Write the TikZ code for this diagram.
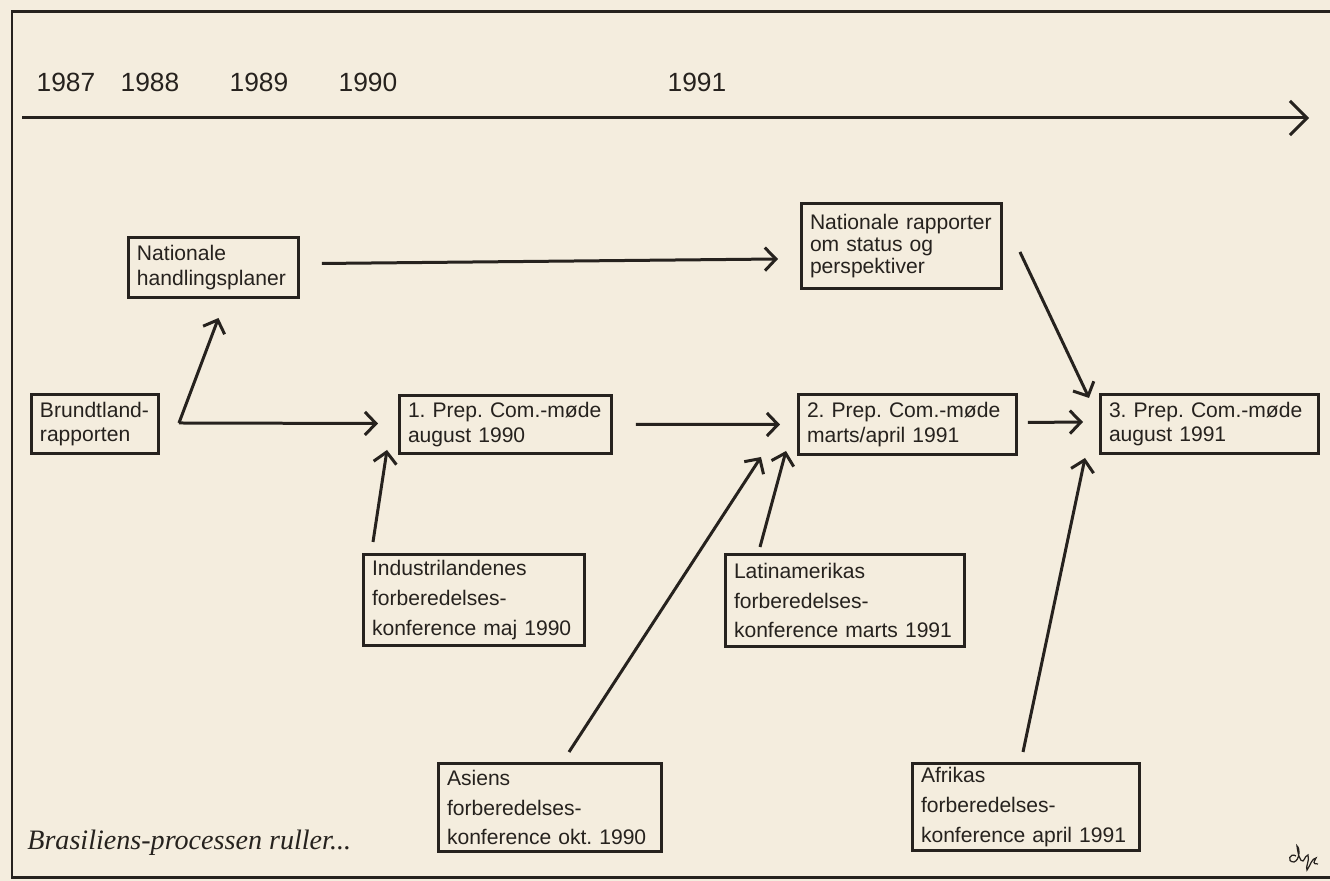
\documentclass[tikz,border=0pt]{standalone}
\usepackage{fontspec}
\setmainfont{Liberation Sans}
\newfontfamily\serifit{Liberation Serif}
\usetikzlibrary{arrows.meta,calc}

\definecolor{papir}{RGB}{244,237,222}
\definecolor{blaek}{RGB}{38,34,30}

\tikzset{
  boks/.style={draw=blaek, line width=0.06cm, anchor=north west, align=left,
    inner xsep=0.17cm, inner ysep=0.08cm, text=blaek,
    font={\fontsize{12}{14}\selectfont\frenchspacing\hyphenpenalty=10000}},
  konf/.style={boks, font={\fontsize{12}{17}\selectfont\frenchspacing\hyphenpenalty=10000}},
  pil/.style={draw=blaek, line width=0.06cm, -{Straight Barb[length=0.22cm,width=0.46cm]}},
  aar/.style={anchor=base, text=blaek, font={\fontsize{15}{18}\selectfont}},
}

\begin{document}
\frenchspacing
\begin{tikzpicture}[x=0.02cm, y=-0.02cm]
                        % Paper and frame
                        \useasboundingbox (0,0) rectangle (1330,881);%
                        \fill [papir] (0,0) rectangle (1330,881);%
                        \draw [blaek, line width=0.06cm] (1330,12) -- (12,12) -- (12,878) -- (1330,878);%

                        % Years over the time line
                        \node [aar] (y1987) at (66,92) {1987};%
                        \node [aar] (y1988) at (150,92) {1988};%
                        \node [aar] (y1989) at (259,92) {1989};%
                        \node [aar] (y1990) at (368,92) {1990};%
                        \node [aar] (y1991) at (697,92) {1991};%

                        % Drawing time line
                        \coordinate (tlstart) at (22,118);%
                        \coordinate (tlend) at (1309,118);%
                        \draw [draw=blaek, line width=0.06cm, -{Straight Barb[length=0.34cm,width=0.68cm]}] (tlstart) -- (tlend);%

                        % Boxes
                        \node [boks, text width=3.06cm, minimum height=1.20cm] (hand) at (127,236) {Nationale\\handlingsplaner};%
                        \node [boks, text width=3.66cm, minimum height=1.70cm, font={\fontsize{12}{12.5}\selectfont\frenchspacing}] (rap) at (800,202) {Nationale rapporter\\om status og\\perspektiver};%
                        \node [boks, text width=2.20cm, minimum height=1.18cm] (brundt) at (30,393) {Brundtland-\\rapporten};%
                        \node [boks, text width=3.90cm, minimum height=1.16cm] (prepA) at (398,394) {1. Prep. Com.-møde\\august 1990};%
                        \node [boks, text width=4.02cm, minimum height=1.20cm] (prepB) at (797,393) {2. Prep. Com.-møde\\marts/april 1991};%
                        \node [boks, text width=4.02cm, minimum height=1.18cm] (prepC) at (1099,393) {3. Prep. Com.-møde\\august 1991};%
                        \node [konf, text width=4.08cm, minimum height=1.82cm] (indu) at (362,553) {Industrilandenes\\forberedelses-\\konference maj 1990};%
                        \node [konf, text width=4.44cm, minimum height=1.84cm] (latin) at (724,553) {Latinamerikas\\forberedelses-\\konference marts 1991};%
                        \node [konf, text width=4.12cm, minimum height=1.76cm] (asien) at (437,762) {Asiens\\forberedelses-\\konference okt. 1990};%
                        \node [konf, text width=4.20cm, minimum height=1.72cm] (afrika) at (911,762) {Afrikas\\forberedelses-\\konference april 1991};%

                        % Drawing arrows out of Brundtland
                        \coordinate (knee) at ($(brundt.east)+(19,-1)$);%
                        \draw [pil] (knee) -- ($(hand.south)+(5,19)$);%
                        \draw [pil] (knee) -- ($(prepA.west)+(-20,-1)$);%

                        % Drawing arrows along the top
                        \draw [pil] ($(hand.east)+(22,-4)$) -- ($(rap.west)+(-22,13)$);%
                        \draw [pil] ($(rap.east)+(17,6)$) -- ($(prepC.west)+(-10,-26)$);%

                        % Drawing arrows between the meetings
                        \draw [pil] ($(prepA.east)+(23,0)$) -- ($(prepB.west)+(-17,0)$);%
                        \draw [pil] ($(prepB.east)+(10,-2)$) -- ($(prepC.west)+(-16,-2)$);%

                        % Drawing arrows from the conferences
                        \draw [pil] ($(indu.north west)+(11,-11)$) -- ($(prepA.south west)+(-11,-5)$);%
                        \draw [pil] ($(asien.north west)+(132,-10)$) -- ($(prepB.south west)+(-36,1)$);%
                        \draw [pil] ($(latin.north west)+(36,-6)$) -- ($(prepB.south west)+(-11,-5)$);%
                        \draw [pil] ($(afrika.north west)+(112,-10)$) -- ($(prepC.south west)+(-14,3)$);%

                        % Caption and signature
                        \node [anchor=base west, inner sep=0pt, text=blaek, font={\serifit\itshape\fontsize{16}{19}\selectfont}] (caption) at (27,850) {Brasiliens-processen ruller...};%
                        \draw [blaek, line width=0.7pt] (1296,856) .. controls (1290,852) and (1286,862) .. (1294,862) .. controls (1300,860) and (1300,848) .. (1297,846) .. controls (1298,854) and (1300,862) .. (1303,861) .. controls (1306,858) and (1305,855) .. (1308,855) .. controls (1310,860) and (1305,868) .. (1307,870) .. controls (1310,866) and (1312,858) .. (1316,858) .. controls (1314,862) and (1312,864) .. (1318,864);%
\end{tikzpicture}
\end{document}
